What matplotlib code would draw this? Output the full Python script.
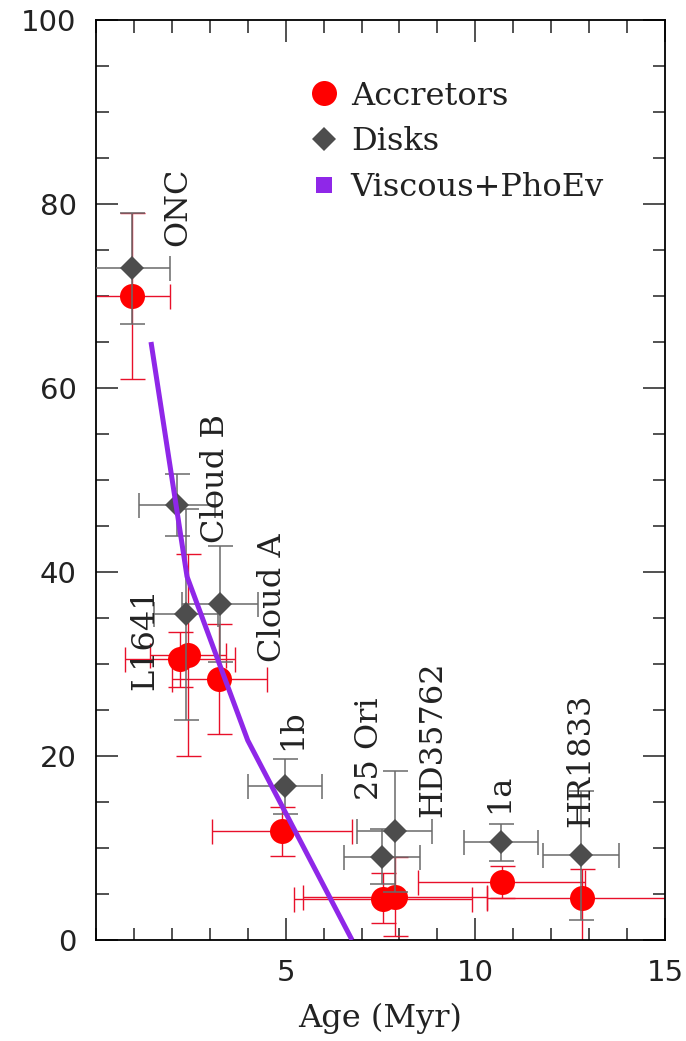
import matplotlib
matplotlib.use("Agg")
import matplotlib.pyplot as plt
from matplotlib.lines import Line2D
from matplotlib.ticker import MultipleLocator, FixedLocator

# Star-forming regions, ages (Myr) and fractions (%)
regions = ["ONC", "L1641", "Cloud B", "Cloud A", "1b", "25 Ori", "HD35762", "1a", "HR1833"]

acc_age = [0.95, 2.21, 2.43, 3.25, 4.90, 7.57, 7.88, 10.70, 12.80]
acc_age_err = [1.00, 1.45, 1.00, 1.25, 1.85, 2.35, 2.42, 2.20, 2.50]
acc_frac = [70.0, 30.5, 31.0, 28.4, 11.8, 4.5, 4.7, 6.3, 4.6]
acc_frac_lo = [9.0, 3.0, 11.0, 6.0, 2.7, 2.6, 4.3, 1.7, 4.8]
acc_frac_hi = [9.0, 3.0, 11.0, 6.0, 2.7, 2.8, 4.3, 1.7, 3.1]

disk_age = [0.95, 2.37, 2.14, 3.27, 4.98, 7.55, 7.87, 10.68, 12.78]
disk_age_err = [1.00, 0.85, 1.00, 1.00, 0.98, 1.00, 1.00, 0.98, 1.00]
disk_frac = [73.0, 35.4, 47.3, 36.5, 16.7, 9.05, 11.8, 10.6, 9.2]
disk_frac_err = [6.0, 11.5, 3.4, 6.3, 3.0, 3.0, 6.6, 2.0, 7.0]

# Viscous evolution + photoevaporation model
model_age = [1.45, 2.40, 4.00, 6.75]
model_frac = [65.0, 39.5, 21.7, 0.0]

# Region label anchors (x, bottom of rotated text)
label_x = [2.16, 1.28, 3.14, 4.65, 5.18, 7.20, 8.87, 10.65, 12.78]
label_y = [75.4, 27.2, 43.2, 30.2, 20.7, 15.2, 13.4, 13.8, 12.3]

serif = "DejaVu Serif"
RED = "#ff0000"
GREY_M = "#4d4d4d"
GREY_E = "#6a6a6a"
PURPLE = "#8f27e8"
INK = "#222222"

fig = plt.figure(figsize=(6.86, 10.41), dpi=100)
ax = fig.add_axes([96 / 686, 1 - 940 / 1041, 569 / 686, 920 / 1041])

# Accretors
ax.errorbar(acc_age, acc_frac, xerr=acc_age_err, yerr=[acc_frac_lo, acc_frac_hi],
            fmt="none", ecolor="#e8102a", elinewidth=1.0, capsize=9, capthick=1.0, zorder=2)
ax.plot(acc_age, acc_frac, "o", color=RED, markersize=18, markeredgewidth=0, zorder=3)

# Disks
ax.errorbar(disk_age, disk_frac, xerr=disk_age_err, yerr=disk_frac_err,
            fmt="none", ecolor=GREY_E, elinewidth=1.1, capsize=9, capthick=1.1, zorder=4)
ax.plot(disk_age, disk_frac, "D", color=GREY_M, markersize=12.5, markeredgewidth=0, zorder=5)

# Model curve
ax.plot(model_age, model_frac, "-", color=PURPLE, linewidth=3.6, solid_capstyle="butt", zorder=6)

for name, lx, ly in zip(regions, label_x, label_y):
    ax.text(lx, ly, name, rotation=90, ha="center", va="bottom",
            fontsize=23, family=serif, color=INK, zorder=7)

ax.set_xlim(0, 15)
ax.set_ylim(0, 100)
ax.xaxis.set_major_locator(FixedLocator([5, 10, 15]))
ax.xaxis.set_minor_locator(MultipleLocator(1))
ax.yaxis.set_major_locator(MultipleLocator(20))
ax.yaxis.set_minor_locator(MultipleLocator(5))
ax.tick_params(which="both", direction="in", top=True, right=True, width=1.1, color=INK)
ax.tick_params(which="major", length=16, labelsize=21, pad=14)
ax.tick_params(which="minor", length=9)
for lab in ax.get_xticklabels() + ax.get_yticklabels():
    lab.set_family("DejaVu Sans")
    lab.set_color(INK)
for sp in ax.spines.values():
    sp.set_linewidth(1.3)

ax.set_xlabel("Age (Myr)", family=serif, fontsize=23, labelpad=11, color=INK)

handles = [
    Line2D([], [], linestyle="none", marker="o", color=RED, markersize=18, markeredgewidth=0),
    Line2D([], [], linestyle="none", marker="D", color=GREY_M, markersize=12.5, markeredgewidth=0),
    Line2D([], [], linestyle="none", marker="s", color=PURPLE, markersize=11, markeredgewidth=0),
]
leg = ax.legend(handles, ["Accretors", "Disks", "Viscous+PhoEv"], loc="upper left",
                bbox_to_anchor=(0.355, 0.948), frameon=False, handlelength=0.8,
                handletextpad=0.45, labelspacing=0.46, borderaxespad=0,
                prop={"family": serif, "size": 23})
for t in leg.get_texts():
    t.set_color(INK)

fig.savefig("out.png", dpi=100)
